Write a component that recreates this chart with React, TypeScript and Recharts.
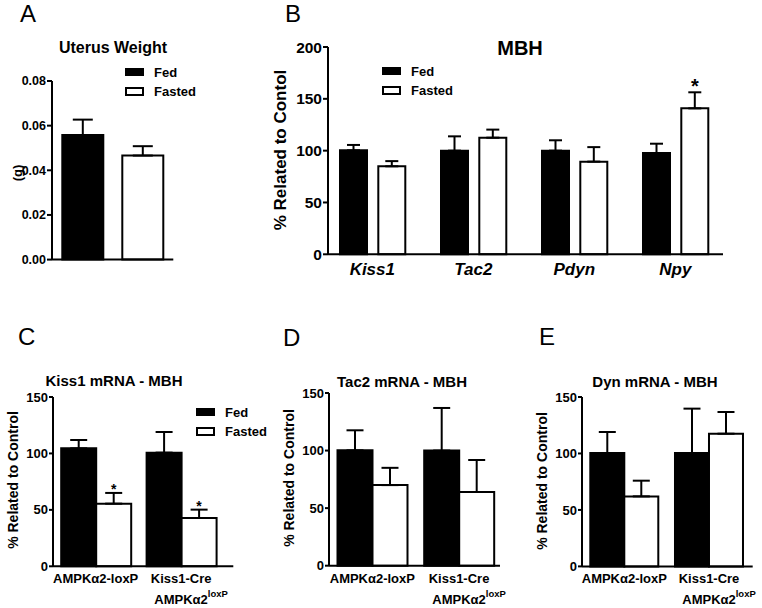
import { Bar, BarChart, ErrorBar, LabelList, XAxis, YAxis } from "recharts";

const FONT = '"Liberation Sans", Arial, Helvetica, sans-serif';

// A - uterus weight (g)
const uterusGroups = ["Uterus"];
const uterusFed = [0.0558];
const uterusFedSem = [0.0069];
const uterusFasted = [0.0466];
const uterusFastedSem = [0.0042];
const uterusTicks = [0, 0.02, 0.04, 0.06, 0.08];

// B - MBH expression, % of control
const mbhGenes = ["Kiss1", "Tac2", "Pdyn", "Npy"];
const mbhFed = [100.3, 100, 100, 97.7];
const mbhFedSem = [5.2, 13.8, 10, 9];
const mbhFasted = [84.9, 112.5, 89.4, 140.8];
const mbhFastedSem = [5, 7.8, 14, 15.5];
const mbhSig = ["", "", "", "*"];
const mbhTicks = [0, 50, 100, 150, 200];

// C-E - genotype comparison, % of control
const genotypes = ["AMPKα2-loxP", "Kiss1-Cre"];
const genotypeSecondLine = ["", "AMPKα2"];
const pctTicks = [0, 50, 100, 150];

const kiss1Fed = [104.5, 100.7];
const kiss1FedSem = [7.4, 18.3];
const kiss1Fasted = [55.5, 42.8];
const kiss1FastedSem = [9.5, 7.4];
const kiss1Sig = ["*", "*"];

const tac2Fed = [100.2, 100];
const tac2FedSem = [17.4, 37];
const tac2Fasted = [70, 64];
const tac2FastedSem = [15, 27.8];

const dynFed = [100.4, 100.4];
const dynFedSem = [18.6, 39.3];
const dynFasted = [62, 117.5];
const dynFastedSem = [13.9, 19.2];

type Row = {
  name: string;
  fed: number;
  fasted: number;
  fedErr: [number, number];
  fastedErr: [number, number];
  sig: string;
};

function buildRows(
  names: string[],
  fed: number[],
  fedSem: number[],
  fasted: number[],
  fastedSem: number[],
  sig?: string[],
): Row[] {
  return names.map((name, i) => ({
    name,
    fed: fed[i],
    fasted: fasted[i],
    // upward-only error bars, GraphPad style
    fedErr: [0, fedSem[i]],
    fastedErr: [0, fastedSem[i]],
    sig: sig ? sig[i] : "",
  }));
}

const PAD_TOP = 20;
const Y_W = 60;
const PAD_RIGHT = 10;
const X_H = 50;

function GenotypeTick(props: any) {
  const { x, y, payload } = props;
  const i = genotypes.indexOf(payload.value);
  const style = { fontFamily: FONT, fontWeight: "bold" as const, fill: "#000" };
  return (
    <g>
      <text x={x} y={y + 17} textAnchor="middle" fontSize={13} {...style}>
        {payload.value}
      </text>
      {genotypeSecondLine[i] ? (
        <text x={x + 10} y={y + 38} textAnchor="middle" fontSize={13} {...style}>
          {genotypeSecondLine[i]}
          <tspan dy={-7} fontSize={9.5}>
            loxP
          </tspan>
        </text>
      ) : null}
    </g>
  );
}

function GeneTick(props: any) {
  const { x, y, payload } = props;
  return (
    <text
      x={x}
      y={y + 21}
      textAnchor="middle"
      fontSize={17}
      fontStyle="italic"
      fontWeight="bold"
      fontFamily={FONT}
      fill="#000"
    >
      {payload.value}
    </text>
  );
}

type Spec = {
  rows: Row[];
  left: number;
  top: number;
  right: number;
  bottom: number;
  domain: [number, number];
  ticks: number[];
  tickFormat?: (v: number) => string;
  tickFontSize: number;
  tickSize: number;
  padLeft: number;
  padRight: number;
  categoryGap: number;
  barGap: number;
  capHalf: number;
  starSize: number;
  xTick: any;
};

function Panel({ spec }: { spec: Spec }) {
  const w = spec.right - spec.left + Y_W + PAD_RIGHT;
  const h = spec.bottom - spec.top + PAD_TOP + X_H;
  const axisStyle = { stroke: "#000", strokeWidth: 2 };
  const renderStar = (p: any) => {
    if (!p.value) return null;
    const vb = p.viewBox ?? p;
    const row: Row | undefined = spec.rows[p.index] ?? p.payload;
    if (!row) return null;
    const pxPerUnit = vb.height / row.fasted;
    const errTop = vb.y - row.fastedErr[1] * pxPerUnit;
    return (
      <text
        x={vb.x + vb.width / 2}
        y={errTop + 1}
        textAnchor="middle"
        fontSize={spec.starSize}
        fontWeight="bold"
        fontFamily={FONT}
        fill="#000"
      >
        {p.value}
      </text>
    );
  };
  return (
    <div style={{ position: "absolute", left: spec.left - Y_W, top: spec.top - PAD_TOP }}>
      <BarChart
        width={w}
        height={h}
        data={spec.rows}
        margin={{ top: PAD_TOP, right: PAD_RIGHT, left: 0, bottom: 0 }}
        barCategoryGap={spec.categoryGap}
        barGap={spec.barGap}
      >
        <XAxis
          dataKey="name"
          height={X_H}
          tickLine={false}
          tickSize={0}
          tickMargin={0}
          axisLine={axisStyle}
          padding={{ left: spec.padLeft, right: spec.padRight }}
          tick={spec.xTick}
          interval={0}
        />
        <YAxis
          width={Y_W}
          type="number"
          domain={spec.domain}
          ticks={spec.ticks}
          interval={0}
          tickFormatter={spec.tickFormat}
          axisLine={axisStyle}
          tickLine={axisStyle}
          tickSize={spec.tickSize}
          tickMargin={1}
          tick={{ fill: "#000", fontSize: spec.tickFontSize, fontWeight: "bold", fontFamily: FONT }}
        />
        <Bar dataKey="fed" fill="#000" stroke="#000" strokeWidth={2} isAnimationActive={false}>
          <ErrorBar
            dataKey="fedErr"
            direction="y"
            width={spec.capHalf}
            stroke="#000"
            strokeWidth={2}
            isAnimationActive={false}
          />
        </Bar>
        <Bar dataKey="fasted" fill="#fff" stroke="#000" strokeWidth={2} isAnimationActive={false}>
          <ErrorBar
            dataKey="fastedErr"
            direction="y"
            width={spec.capHalf}
            stroke="#000"
            strokeWidth={2}
            isAnimationActive={false}
          />
          <LabelList dataKey="sig" content={renderStar} />
        </Bar>
      </BarChart>
    </div>
  );
}

const panels: Spec[] = [
  {
    rows: buildRows(uterusGroups, uterusFed, uterusFedSem, uterusFasted, uterusFastedSem),
    left: 51.7, top: 80.7, right: 173, bottom: 259.3,
    domain: [0, 0.08], ticks: uterusTicks, tickFormat: (v) => v.toFixed(2),
    tickFontSize: 12.5, tickSize: 5, padLeft: 0, padRight: 0,
    categoryGap: 10.3, barGap: 19, capHalf: 10, starSize: 16, xTick: false,
  },
  {
    rows: buildRows(mbhGenes, mbhFed, mbhFedSem, mbhFasted, mbhFastedSem, mbhSig),
    left: 327.7, top: 46.7, right: 722.7, bottom: 254,
    domain: [0, 200], ticks: mbhTicks,
    tickFontSize: 15.5, tickSize: 5, padLeft: -6.2, padRight: -2.8,
    categoryGap: 18.2, barGap: 11.3, capHalf: 6.5, starSize: 20, xTick: <GeneTick />,
  },
  {
    rows: buildRows(genotypes, kiss1Fed, kiss1FedSem, kiss1Fasted, kiss1FastedSem, kiss1Sig),
    left: 52.7, top: 396.7, right: 233, bottom: 566,
    domain: [0, 150], ticks: pctTicks,
    tickFontSize: 13, tickSize: 4, padLeft: 0, padRight: 9.5,
    categoryGap: 8.2, barGap: 0, capHalf: 8.5, starSize: 14, xTick: <GenotypeTick />,
  },
  {
    rows: buildRows(genotypes, tac2Fed, tac2FedSem, tac2Fasted, tac2FastedSem),
    left: 329, top: 393.3, right: 500, bottom: 566,
    domain: [0, 150], ticks: pctTicks,
    tickFontSize: 13, tickSize: 4, padLeft: 0, padRight: -2.4,
    categoryGap: 8.5, barGap: 0, capHalf: 8.5, starSize: 14, xTick: <GenotypeTick />,
  },
  {
    rows: buildRows(genotypes, dynFed, dynFedSem, dynFasted, dynFastedSem),
    left: 582.3, top: 397.3, right: 753, bottom: 566.7,
    domain: [0, 150], ticks: pctTicks,
    tickFontSize: 13, tickSize: 4, padLeft: 0, padRight: 1.3,
    categoryGap: 8.3, barGap: 0, capHalf: 8.5, starSize: 14, xTick: <GenotypeTick />,
  },
];

function Legend({ x, y }: { x: number; y: number }) {
  // x,y = top-left of the "Fed" swatch
  const text = { fontFamily: FONT, fontWeight: "bold" as const, fontSize: 13, fill: "#000" };
  return (
    <g>
      <rect x={x} y={y} width={19} height={8} fill="#000" />
      <text x={x + 29} y={y + 8.5} {...text}>Fed</text>
      <rect x={x + 1} y={y + 20} width={17} height={7} fill="#fff" stroke="#000" strokeWidth={2} />
      <text x={x + 29} y={y + 28} {...text}>Fasted</text>
    </g>
  );
}

function YLabel({ x, y, size, children }: { x: number; y: number; size: number; children: string }) {
  return (
    <text
      x={x}
      y={y}
      transform={`rotate(-90 ${x} ${y})`}
      textAnchor="middle"
      dominantBaseline="central"
      fontFamily={FONT}
      fontWeight="bold"
      fontSize={size}
      fill="#000"
    >
      {children}
    </text>
  );
}

export default function App() {
  const letter = { fontFamily: FONT, fontSize: 24, fill: "#000" };
  const title = { fontFamily: FONT, fontWeight: "bold" as const, fill: "#000", textAnchor: "middle" as const };
  return (
    <div
      style={{
        position: "absolute",
        left: 0,
        top: 0,
        width: 762,
        height: 608,
        background: "#fff",
        overflow: "hidden",
      }}
    >
      {panels.map((spec, i) => (
        <Panel key={i} spec={spec} />
      ))}
      <svg
        width={762}
        height={608}
        style={{ position: "absolute", left: 0, top: 0, pointerEvents: "none" }}
      >
        <text x={20} y={22} {...letter}>A</text>
        <text x={285} y={22} {...letter}>B</text>
        <text x={18} y={345} {...letter}>C</text>
        <text x={283} y={346} {...letter}>D</text>
        <text x={539} y={345} {...letter}>E</text>

        <text x={113} y={53} fontSize={16} {...title}>Uterus Weight</text>
        <text x={520} y={55} fontSize={20} {...title}>MBH</text>
        <text x={114} y={386} fontSize={15} {...title}>Kiss1 mRNA - MBH</text>
        <text x={402} y={387} fontSize={15} {...title}>Tac2 mRNA - MBH</text>
        <text x={655} y={387} fontSize={15} {...title}>Dyn mRNA - MBH</text>

        <YLabel x={17} y={173} size={13}>(g)</YLabel>
        <YLabel x={280} y={150} size={17}>% Related to Contol</YLabel>
        <YLabel x={13} y={480} size={14}>% Related to Control</YLabel>
        <YLabel x={289} y={478} size={14}>% Related to Control</YLabel>
        <YLabel x={542} y={481} size={14}>% Related to Control</YLabel>

        <Legend x={125} y={68} />
        <Legend x={382} y={67} />
        <Legend x={196} y={408} />
      </svg>
    </div>
  );
}
